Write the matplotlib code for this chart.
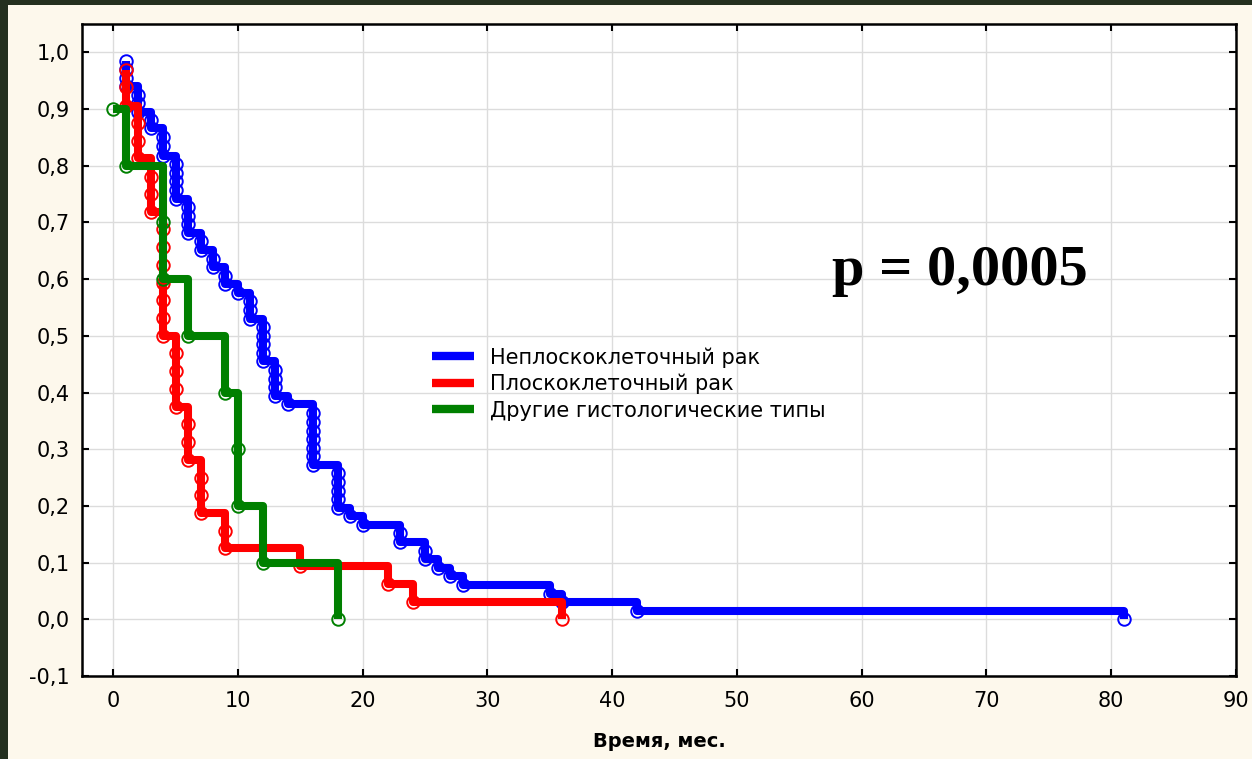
import matplotlib
matplotlib.use("Agg")
import matplotlib.pyplot as plt
from matplotlib.patches import Rectangle
from matplotlib.ticker import FuncFormatter

# Кривые выживаемости (Каплан-Мейер): время события (мес.) и доля выживших после него
blue_t = [1, 1, 1, 1, 2, 2, 2, 3, 3, 4, 4, 4, 5, 5, 5, 5, 5, 6, 6, 6, 6, 7, 7, 8, 8, 9, 9, 10,
          11, 11, 11, 12, 12, 12, 12, 12, 13, 13, 13, 13, 14, 16, 16, 16, 16, 16, 16, 16,
          18, 18, 18, 18, 18, 19, 20, 23, 23, 25, 25, 26, 27, 28, 35, 36, 42, 81]
blue_s = [0.985, 0.970, 0.955, 0.940, 0.925, 0.910, 0.894, 0.880, 0.866, 0.850, 0.834, 0.818,
          0.803, 0.788, 0.773, 0.757, 0.742, 0.727, 0.712, 0.697, 0.681, 0.667, 0.652,
          0.636, 0.621, 0.606, 0.591, 0.576, 0.561, 0.545, 0.530,
          0.515, 0.500, 0.485, 0.470, 0.455, 0.439, 0.424, 0.409, 0.394, 0.379,
          0.364, 0.348, 0.333, 0.318, 0.303, 0.288, 0.273,
          0.258, 0.242, 0.227, 0.212, 0.197, 0.182, 0.167, 0.152, 0.136, 0.121, 0.106,
          0.091, 0.076, 0.061, 0.045, 0.030, 0.015, 0.0]

red_t = [1, 1, 1, 2, 2, 2, 3, 3, 3, 4, 4, 4, 4, 4, 4, 4, 5, 5, 5, 5, 6, 6, 6, 7, 7, 7,
         9, 9, 15, 22, 24, 36]
red_s = [0.969, 0.938, 0.906, 0.875, 0.844, 0.813, 0.781, 0.750, 0.719,
         0.688, 0.656, 0.625, 0.594, 0.563, 0.531, 0.500, 0.469, 0.438, 0.406, 0.375,
         0.344, 0.313, 0.281, 0.250, 0.219, 0.188, 0.156, 0.125, 0.094, 0.063, 0.031, 0.0]

green_t = [0, 1, 4, 4, 6, 9, 10, 10, 12, 18]
green_s = [0.9, 0.8, 0.7, 0.6, 0.5, 0.4, 0.3, 0.2, 0.1, 0.0]

labels = ["Неплоскоклеточный рак", "Плоскоклеточный рак", "Другие гистологические типы"]
colors = ["#0000ff", "#ff0000", "#008000"]

x_ticks = [0, 10, 20, 30, 40, 50, 60, 70, 80, 90]
y_ticks = [-0.1, 0.0, 0.1, 0.2, 0.3, 0.4, 0.5, 0.6, 0.7, 0.8, 0.9, 1.0]

plt.rcParams['font.family'] = ['DejaVu Sans']

fig = plt.figure(figsize=(12.52, 7.59), dpi=100)
fig.patch.set_facecolor("#24301f")
# кремовый фон слайда
fig.patches.append(Rectangle((8 / 1252, 0), 1, 1 - 5 / 759, transform=fig.transFigure,
                             facecolor="#fdf8ec", edgecolor="none", zorder=-10))

ax = fig.add_axes([82 / 1252, 1 - 676 / 759, (1236 - 82) / 1252, (676 - 24) / 759])
ax.set_facecolor("white")

series = [(blue_t, blue_s), (red_t, red_s), (green_t, green_s)]
for (t, s), lab, col in zip(series, labels, colors):
    ax.plot(t, s, drawstyle="steps-post", color=col, lw=5.8, label=lab,
            solid_capstyle="butt", zorder=3)
    ax.plot(t, s, linestyle="none", marker="o", markersize=9, markerfacecolor="none",
            markeredgecolor=col, markeredgewidth=1.4, zorder=3)

ax.set_xlim(-2.5, 90)
ax.set_ylim(-0.1, 1.05)
ax.set_xticks(x_ticks)
ax.set_yticks(y_ticks)
ax.yaxis.set_major_formatter(FuncFormatter(lambda v, p: f"{v:.1f}".replace(".", ",")))
ax.grid(True, color="#dcdcdc", lw=1)
ax.set_axisbelow(True)
ax.tick_params(direction="in", length=5, width=1.5, top=True, right=True,
               labelsize=15, colors="black")
ax.tick_params(axis="x", pad=11)
ax.tick_params(axis="y", pad=9)
for sp in ax.spines.values():
    sp.set_linewidth(1.8)
    sp.set_color("black")

ax.set_xlabel("Время, мес.", fontsize=14, fontweight="bold", labelpad=15)

ax.text(57.6, 0.589, "p = 0,0005", family="Liberation Serif", fontweight="bold",
        fontsize=42, ha="left", va="baseline")

leg = ax.legend(loc="center left", bbox_to_anchor=((432 - 82) / 1154, (676 - 384) / 652),
                frameon=False, fontsize=15, handlelength=2.0, handletextpad=0.8,
                labelspacing=0.3, borderpad=0, borderaxespad=0)
for h in leg.get_lines():
    h.set_linewidth(6)

fig.savefig("out.png", dpi=100, facecolor=fig.get_facecolor())
